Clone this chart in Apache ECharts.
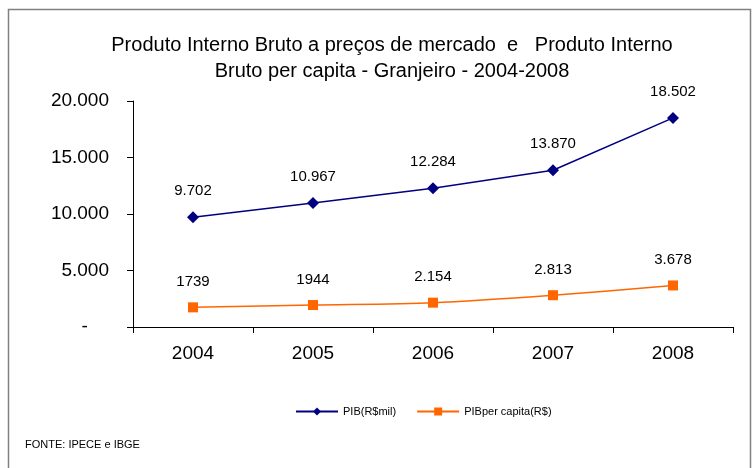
<!DOCTYPE html>
<html><head><meta charset="utf-8">
<script src="https://cdn.jsdelivr.net/npm/echarts@6/dist/echarts.min.js"></script>
<style>html,body{margin:0;padding:0;background:#fff}#c{width:753px;height:468px}</style>
</head><body><div id="c"></div>
<script>
var categories = ['2004','2005','2006','2007','2008'];
var pibValues = [9702, 10967, 12284, 13870, 18502];
var pibLabels = ['9.702','10.967','12.284','13.870','18.502'];
var perCapitaValues = [1739, 1944, 2154, 2813, 3678];
var perCapitaLabels = ['1739','1944','2.154','2.813','3.678'];
var yTicks = ['-    ','5.000','10.000','15.000','20.000'];

var chart = echarts.init(document.getElementById('c'), null, {renderer:'canvas'});
var font = 'Liberation Sans, Arial, sans-serif';
chart.setOption({
  animation:false,
  backgroundColor:'#fff',
  title:{
    text:'Produto Interno Bruto a preços de mercado  e   Produto Interno\nBruto per capita - Granjeiro - 2004-2008',
    left:387, top:27, textAlign:'center',
    textStyle:{fontFamily:font,fontSize:20,fontWeight:'normal',color:'#000',lineHeight:26}
  },
  graphic:[{type:'rect',shape:{x:8.5,y:9.5,width:742,height:470},style:{fill:'none',stroke:'#808080',lineWidth:1.5},silent:true},
    {type:'text',left:25,top:439,style:{text:'FONTE: IPECE e IBGE',font:'11px '+font,fill:'#000'}}],
  legend:{
    top:401, left:290, itemGap:20, itemWidth:42, itemHeight:10,
    textStyle:{fontFamily:font,fontSize:11,color:'#000'},
    data:['PIB(R$mil)','PIBper capita(R$)']
  },
  grid:{left:133,right:20,top:101,height:226},
  xAxis:{
    type:'category', data:categories, boundaryGap:true,
    axisLine:{lineStyle:{color:'#000'}},
    axisTick:{show:true,length:6,lineStyle:{color:'#000'}},
    axisLabel:{fontFamily:font,fontSize:19,color:'#000',margin:17}
  },
  yAxis:{
    type:'value', min:0, max:20000, interval:5000,
    axisLine:{show:true,lineStyle:{color:'#000'}},
    axisTick:{show:true,length:6,lineStyle:{color:'#000'}},
    splitLine:{show:false},
    axisLabel:{fontFamily:font,fontSize:19,color:'#000',margin:24,
      formatter:function(v){return yTicks[Math.round(v/5000)];}}
  },
  series:[
    {name:'PIB(R$mil)',type:'line',data:pibValues,symbol:'diamond',symbolSize:12,
     lineStyle:{color:'#000080',width:1.5},itemStyle:{color:'#000080'},
     label:{show:true,position:'top',distance:13,fontFamily:font,fontSize:15,color:'#000',
       formatter:function(p){return pibLabels[p.dataIndex];}}},
    {name:'PIBper capita(R$)',type:'line',data:perCapitaValues,symbol:'rect',symbolSize:10,smooth:0.3,
     lineStyle:{color:'#FF6600',width:1.5},itemStyle:{color:'#FF6600'},
     label:{show:true,position:'top',distance:13,fontFamily:font,fontSize:15,color:'#000',
       formatter:function(p){return perCapitaLabels[p.dataIndex];}}}
  ]
});
</script></body></html>
